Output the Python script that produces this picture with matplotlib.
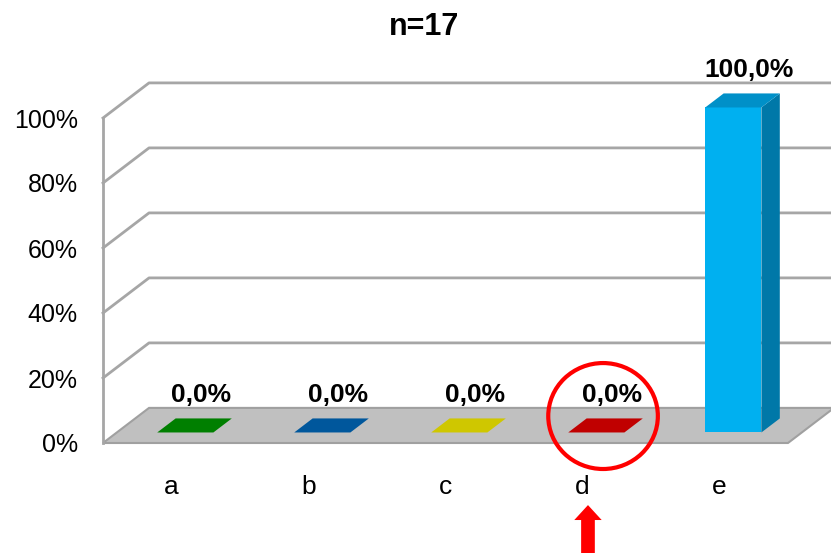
import matplotlib
matplotlib.use("Agg")
import matplotlib.pyplot as plt
from matplotlib.patches import Polygon, Ellipse, FancyArrow

plt.rcParams["font.family"] = ["Liberation Sans", "DejaVu Sans"]

categories = ["a", "b", "c", "d", "e"]
values = [0.0, 0.0, 0.0, 0.0, 100.0]
value_labels = ["0,0%", "0,0%", "0,0%", "0,0%", "100,0%"]
yticks = [0, 20, 40, 60, 80, 100]
ytick_labels = ["0%", "20%", "40%", "60%", "80%", "100%"]
title = "n=17"

front_colors = ["#007f00", "#00579c", "#cfc700", "#c00000", "#00b0f0"]
side_colors = ["#005f00", "#00427a", "#a8a200", "#900000", "#0078a8"]
top_colors = ["#007000", "#004f8f", "#c4bc00", "#b00000", "#0090c8"]

# fake 3d: shift per unit depth in data units
DX, DY = 0.336, 10.8
Z0, Z1 = 0.3, 0.7
W = 0.41


def p(x, y, z):
    return (x + z * DX, y + z * DY)


fig = plt.figure(figsize=(8.31, 5.53), dpi=100)
ax = fig.add_axes([103 / 831, 110 / 553, 685 / 831, 325 / 553])
ax.set_xlim(-0.5, 4.5)
ax.set_ylim(0, 100)
for s in ax.spines.values():
    s.set_visible(False)
ax.set_facecolor("none")

grid_c = "#a6a6a6"
x_left, x_right = -0.5, 4.5
# floor
floor = [p(x_left, 0, 0), p(x_right, 0, 0), p(x_right, 0, 1), p(x_left, 0, 1)]
ax.add_patch(Polygon(floor, closed=True, facecolor="#c0c0c0", edgecolor="#a0a0a0",
                     lw=1.5, clip_on=False, zorder=1))
# left wall + back wall gridlines
ax.plot([x_left, x_left], [0, 100], color=grid_c, lw=2, clip_on=False, zorder=1)
for v in yticks[1:]:
    a, b = p(x_left, v, 0), p(x_left, v, 1)
    c = p(x_right + 0.2, v, 1)
    ax.plot([a[0], b[0], c[0]], [a[1], b[1], c[1]], color=grid_c, lw=2,
            clip_on=False, zorder=1)

# bars
for i, v in enumerate(values):
    x0, x1 = i - W / 2, i + W / 2
    top = [p(x0, v, Z0), p(x1, v, Z0), p(x1, v, Z1), p(x0, v, Z1)]
    if v > 0:
        front = [p(x0, 0, Z0), p(x1, 0, Z0), p(x1, v, Z0), p(x0, v, Z0)]
        side = [p(x1, 0, Z0), p(x1, 0, Z1), p(x1, v, Z1), p(x1, v, Z0)]
        ax.add_patch(Polygon(front, facecolor=front_colors[i], lw=0, clip_on=False, zorder=3))
        ax.add_patch(Polygon(side, facecolor=side_colors[i], lw=0, clip_on=False, zorder=3))
        ax.add_patch(Polygon(top, facecolor=top_colors[i], lw=0, clip_on=False, zorder=3))
    else:
        ax.add_patch(Polygon(top, facecolor=front_colors[i], lw=0, clip_on=False, zorder=3))
    tx, ty = p(i, v, Z1)
    ax.annotate(value_labels[i], (i + 0.65 * DX, ty), xytext=(0, 8),
                textcoords="offset points", ha="center", va="bottom",
                fontsize=19, fontweight="bold", zorder=5, annotation_clip=False)

ax.set_xticks(range(len(categories)))
ax.set_xticklabels(categories, fontsize=19)
ax.set_yticks(yticks)
ax.set_yticklabels(ytick_labels, fontsize=18)
ax.tick_params(axis="x", length=0, pad=23)
ax.tick_params(axis="y", length=0, pad=18)

fig.text(424 / 831, 1 - 27 / 553, title, ha="center", va="center",
         fontsize=22, fontweight="bold")

# red highlight on d
ax.add_patch(Ellipse((3.15, 8.3), 0.80, 32.6, fill=False, edgecolor="#ff0000",
                     lw=3, clip_on=False, zorder=6))
ax.add_patch(FancyArrow(3.04, -34.5, 0, 15.4, width=0.1, head_width=0.2,
                        head_length=4.6, length_includes_head=True,
                        color="#ff0000", lw=0, clip_on=False, zorder=6))

fig.savefig("out.png", dpi=100)
